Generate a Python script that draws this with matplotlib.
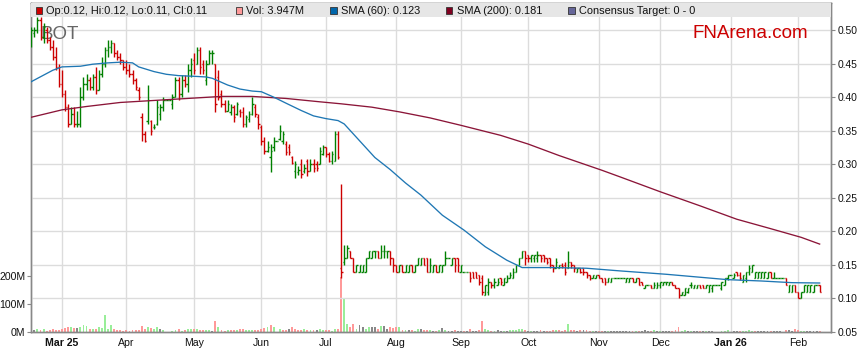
import numpy as np
import pandas as pd
import matplotlib
matplotlib.use("Agg")
import matplotlib.pyplot as plt
from matplotlib.patches import Rectangle
from matplotlib.collections import LineCollection

plt.rcParams['font.family'] = ['Liberation Sans', 'DejaVu Sans']

# ---------------- data ----------------
ticker = "BOT"
dates = pd.bdate_range("2025-02-17", "2026-02-11")   # weekday slots of the chart

opens = [
 .485,.495,.50,.515,.49,.50,.485,.475,.46,.445,
 .42,.405,.385,.36,.375,.36,.36,.40,.42,.425,.415,.43,.41,.435,.45,.47,.475,.48,.465,.46,.455,
 .445,.44,.435,.425,.41,.37,.345,.365,.365,.355,.36,.375,.385,.395,.395,.39,.40,.425,.405,.425,.42,.44,
 .455,.45,.47,.45,.425,.45,.465,.45,.43,.405,.39,.38,.378,.385,.375,.38,.378,.36,.368,.375,.385,.37,
 .355,.335,.32,.31,.325,.335,.338,.335,.33,.325,.31,.29,.288,.30,.29,.305,.29,.30,.30,.30,.315,
 .325,.315,.305,.305,.345,.145,.155,.16,.17,.16,.14,.14,.14,.14,.16,.16,.17,.17,.16,.17,.17,.17,.16,
 .15,.14,.15,.14,.14,.15,.14,.15,.15,.16,.16,.14,.14,.15,.14,.14,.15,.16,.15,.16,.16,
 .14,.14,.14,.14,.14,.14,.135,.13,.105,.11,.125,.12,.12,.13,.12,.125,.13,.13,.14,.15,.16,.17,
 .165,.16,.16,.16,.165,.165,.16,.16,.15,.145,.145,.15,.15,.145,.155,.15,.14,.145,.145,.14,.135,.13,.13,
 .135,.13,.13,.125,.125,.13,.13,.13,.13,.125,.125,.13,.125,.13,.125,.115,.12,.12,.115,.115,
 .12,.12,.125,.12,.125,.12,.115,.105,.105,.11,.12,.115,.115,.12,.12,.115,.11,.115,.12,.12,.115,.12,.13,
 .135,.13,.14,.135,.125,.13,.14,.14,.13,.13,.13,.13,.13,.14,.13,.13,.13,.13,.13,.11,.11,.12,
 .11,.10,.11,.11,.11,.11,.12,.12]

highs = [
 .505,.505,.52,.52,.51,.505,.49,.485,.475,.45,
 .44,.41,.39,.385,.385,.38,.415,.43,.435,.43,.435,.445,.44,.46,.475,.485,.485,.48,.47,.465,.455,
 .455,.45,.44,.428,.415,.376,.35,.418,.366,.36,.395,.39,.40,.395,.395,.405,.43,.43,.433,.433,.45,.458,
 .465,.475,.475,.455,.455,.47,.47,.45,.44,.41,.395,.395,.39,.388,.393,.383,.385,.373,.38,.40,.39,.375,
 .358,.34,.335,.33,.34,.335,.358,.35,.335,.33,.312,.305,.298,.308,.30,.308,.308,.308,.305,.325,.328,
 .325,.318,.32,.35,.35,.27,.18,.18,.17,.16,.15,.15,.15,.16,.17,.17,.17,.17,.18,.18,.17,.17,.16,
 .15,.15,.15,.15,.15,.15,.15,.16,.16,.16,.16,.16,.15,.15,.15,.15,.17,.16,.16,.16,.16,
 .15,.14,.14,.14,.14,.14,.135,.135,.12,.13,.125,.13,.13,.13,.13,.135,.14,.145,.15,.16,.17,.17,
 .165,.165,.165,.17,.165,.165,.16,.16,.15,.16,.15,.153,.155,.17,.155,.15,.145,.145,.145,.14,.135,.135,.135,
 .135,.13,.13,.13,.13,.13,.13,.13,.13,.13,.13,.13,.13,.13,.125,.12,.12,.12,.125,.125,
 .125,.125,.125,.125,.125,.12,.115,.11,.115,.115,.125,.12,.12,.12,.12,.12,.12,.12,.12,.12,.125,.13,.135,
 .135,.138,.14,.14,.135,.14,.15,.15,.14,.14,.14,.14,.14,.14,.14,.13,.13,.13,.13,.12,.12,.12,
 .11,.11,.12,.12,.12,.12,.12,.12]

lows = [
 .475,.49,.495,.485,.48,.48,.47,.455,.44,.415,
 .40,.38,.355,.36,.355,.355,.355,.395,.41,.41,.41,.405,.41,.43,.445,.46,.465,.46,.455,.45,.44,
 .435,.43,.42,.41,.395,.335,.333,.36,.343,.352,.358,.366,.38,.395,.395,.383,.40,.395,.40,.415,.408,.43,
 .435,.45,.435,.435,.418,.45,.45,.378,.395,.385,.378,.38,.373,.363,.373,.37,.355,.355,.363,.373,.37,.353,
 .328,.315,.318,.288,.32,.335,.336,.33,.313,.313,.30,.28,.284,.28,.287,.283,.29,.288,.29,.30,.313,
 .31,.303,.30,.305,.308,.13,.15,.16,.16,.14,.14,.14,.14,.14,.16,.16,.16,.16,.16,.16,.16,.15,.14,
 .14,.14,.14,.14,.14,.14,.14,.15,.15,.15,.14,.14,.14,.14,.14,.14,.15,.16,.15,.14,.14,
 .14,.14,.14,.125,.13,.13,.12,.105,.105,.105,.115,.115,.12,.12,.12,.125,.13,.13,.14,.15,.16,.15,
 .155,.155,.155,.155,.155,.155,.152,.145,.14,.145,.145,.145,.135,.145,.145,.14,.14,.138,.135,.13,.128,.13,.13,
 .13,.125,.12,.125,.125,.13,.13,.13,.13,.125,.125,.125,.125,.12,.12,.115,.12,.115,.115,.115,
 .115,.12,.12,.12,.12,.115,.10,.105,.105,.108,.115,.115,.115,.115,.115,.115,.11,.11,.12,.12,.113,.12,.127,
 .135,.13,.133,.128,.125,.125,.135,.14,.13,.13,.13,.13,.13,.13,.13,.13,.13,.13,.12,.11,.11,.11,
 .10,.10,.11,.11,.11,.11,.12,.11]

closes = [
 .50,.50,.515,.49,.505,.485,.475,.46,.445,.42,
 .405,.385,.36,.375,.36,.36,.40,.42,.425,.415,.43,.41,.435,.45,.47,.475,.48,.465,.46,.455,.445,
 .44,.435,.425,.415,.40,.345,.335,.395,.35,.356,.385,.385,.395,.395,.395,.40,.425,.405,.425,.42,.44,.45,
 .44,.47,.445,.44,.45,.465,.465,.39,.40,.39,.38,.39,.385,.37,.39,.378,.36,.37,.375,.39,.375,.36,
 .335,.32,.325,.32,.335,.335,.35,.345,.318,.318,.302,.30,.292,.285,.295,.29,.30,.295,.295,.32,.325,
 .315,.305,.315,.345,.31,.14,.16,.175,.16,.14,.15,.15,.15,.16,.17,.17,.17,.16,.17,.17,.17,.16,.15,
 .14,.15,.14,.15,.15,.14,.15,.16,.16,.15,.14,.15,.15,.14,.15,.15,.16,.16,.16,.15,.15,
 .15,.14,.14,.13,.13,.13,.125,.11,.12,.125,.12,.125,.125,.125,.13,.13,.135,.14,.15,.16,.17,.16,
 .16,.165,.165,.165,.16,.16,.155,.15,.145,.155,.15,.148,.14,.155,.15,.145,.145,.14,.14,.135,.13,.135,.135,
 .13,.125,.125,.13,.13,.13,.13,.13,.13,.13,.13,.125,.13,.12,.12,.12,.12,.115,.12,.12,
 .125,.125,.125,.125,.12,.115,.105,.11,.115,.115,.12,.12,.12,.115,.115,.12,.12,.12,.12,.12,.125,.13,.135,
 .135,.135,.135,.13,.135,.14,.145,.15,.14,.14,.14,.14,.14,.13,.13,.13,.13,.13,.12,.12,.12,.11,
 .10,.11,.12,.12,.12,.12,.12,.11]

volumes_m = [
 4,6,9,6,12,5,6,10,8,8,
 12,14,18,17,14,14,17,24,21,12,9,12,18,14,62,12,24,10,6,8,4,
 6,5,8,8,8,22,12,17,16,10,18,10,8,0,0,4,7,12,5,7,10,12,
 12,12,6,6,8,8,5,41,19,7,5,8,8,8,8,10,11,8,6,6,8,8,
 11,14,17,24,17,0,12,8,6,12,17,12,8,8,12,8,8,8,6,12,8,
 6,8,5,10,12,195,117,29,17,29,12,26,17,12,19,19,17,12,22,22,12,19,14,
 19,19,8,8,8,6,5,12,12,6,8,6,5,5,6,14,6,4,5,6,5,
 4,3,4,12,5,4,6,40,10,8,5,5,6,4,5,5,6,6,8,9,10,8,
 5,4,4,5,6,4,5,5,6,7,6,5,8,29,8,8,5,8,6,6,5,4,3,
 3,4,4,3,4,3,3,4,3,4,5,4,5,4,5,6,4,5,6,5,
 4,3,4,3,5,6,17,5,6,4,5,4,3,4,3,4,5,4,0,0,4,5,6,
 0,5,4,4,5,5,6,5,4,4,5,4,4,5,4,3,3,0,8,6,5,10,
 7,5,4,4,3,4,3,3.947]

sma60_dates = ['2025-02-17','2025-02-26','2025-03-03','2025-03-11','2025-03-17','2025-03-24',
 '2025-03-28','2025-04-03','2025-04-07','2025-04-14','2025-04-18','2025-04-24','2025-05-01',
 '2025-05-07','2025-05-09','2025-05-16','2025-05-22','2025-05-28','2025-06-02','2025-06-06',
 '2025-06-12','2025-06-19','2025-06-25','2025-07-01','2025-07-07','2025-07-09','2025-07-14',
 '2025-07-18','2025-07-23','2025-07-30','2025-08-06','2025-08-13','2025-08-22','2025-09-02',
 '2025-09-11','2025-09-22','2025-09-29','2025-10-13','2025-10-28','2025-11-12','2025-11-17',
 '2025-12-03','2025-12-31','2026-01-15','2026-01-29','2026-02-11']
sma60_vals = [.423,.44,.445,.446,.449,.451,.452,.451,.445,.438,.434,.432,.431,.430,.428,.418,
 .412,.409,.408,.40,.391,.380,.372,.368,.365,.36,.345,.325,.31,.292,.272,.254,.224,.202,.177,
 .157,.146,.146,.145,.141,.140,.136,.128,.126,.1235,.123]

sma200_dates = ['2025-02-17','2025-03-03','2025-03-13','2025-03-28','2025-04-14','2025-04-29',
 '2025-05-14','2025-05-28','2025-06-12','2025-06-27','2025-07-08','2025-07-22','2025-08-04',
 '2025-08-18','2025-09-01','2025-09-18','2025-10-01','2025-10-15','2025-11-04','2025-11-12',
 '2025-12-01','2025-12-18','2026-01-05','2026-01-20','2026-02-03','2026-02-11']
sma200_vals = [.370,.381,.386,.392,.395,.398,.401,.401,.398,.393,.390,.385,.378,.369,.358,.343,
 .33,.313,.291,.281,.259,.238,.218,.204,.191,.181]

month_labels = ['Mar 25','Apr','May','Jun','Jul','Aug','Sep','Oct','Nov','Dec','Jan 26','Feb']
bold_labels = ['Mar 25', 'Jan 26']
price_ticks = [0.05,0.10,0.15,0.20,0.25,0.30,0.35,0.40,0.45,0.50]
vol_ticks_m = [0, 100, 200]
consensus_text = "0 - 0"

# ---------------- styling ----------------
GREEN = '#008000'
RED = '#cc0000'
VOL_UP = '#99ee99'
VOL_DN = '#ff9999'
VOL_FLAT = '#888888'
SMA60_C = '#1f77b4'
SMA200_C = '#8b1538'
GRID_C = '#dcdcdc'
SPINE_C = '#888888'

W, H = 859, 363
L, R, T, B = 30.7, 831.0, 3.0, 332.0
fig = plt.figure(figsize=(W/100, H/100), dpi=100)
axv = fig.add_axes([L/W, 1-B/H, (R-L)/W, (B-T)/H])
axp = axv.twinx()
axp.patch.set_visible(False)

n = len(dates)
x = np.arange(n)
o = np.array(opens); h = np.array(highs); l = np.array(lows); c = np.array(closes)
v = np.array(volumes_m) * 1e6

# volume bars
vcols = [VOL_FLAT]
for i in range(1, n):
    vcols.append(VOL_UP if c[i] > c[i-1] else (VOL_DN if c[i] < c[i-1] else VOL_FLAT))
axv.bar(x, v, width=0.62, color=vcols, linewidth=0, zorder=2)
axv.set_ylim(0, 1175e6)
axv.set_yticks([t*1e6 for t in vol_ticks_m])
axv.set_yticklabels([f"{t}M" for t in vol_ticks_m])

# month ticks
mkey = dates.to_period('M')
month_pos = [i for i in range(1, n) if mkey[i] != mkey[i-1]]
axv.set_xticks(month_pos)
axv.set_xticklabels(month_labels)
for lab in axv.get_xticklabels():
    if lab.get_text() in bold_labels:
        lab.set_fontweight('bold')
axv.set_xlim(-0.2, 260.7)
axv.grid(axis='x', color=GRID_C, lw=1.0, zorder=0)
axv.set_axisbelow(True)

# price
axp.set_ylim(0.05, 0.5402)
axp.set_yticks(price_ticks)
axp.set_yticklabels([f"{t:.2f}" for t in price_ticks])
for t in price_ticks[1:]:
    axp.axhline(t, color=GRID_C, lw=1.0, zorder=0)

segs, cols = [], []
for i in range(n):
    col = GREEN if c[i] >= o[i] else RED
    segs.append([(i, l[i]), (i, h[i])])
    segs.append([(i - 0.45, o[i]), (i, o[i])])
    segs.append([(i, c[i]), (i + 0.45, c[i])])
    cols += [col] * 3
axp.add_collection(LineCollection(segs, colors=cols, linewidths=1.0, capstyle='butt', zorder=3))

s60x = dates.get_indexer(pd.to_datetime(sma60_dates))
s200x = dates.get_indexer(pd.to_datetime(sma200_dates))
axp.plot(s200x, sma200_vals, color=SMA200_C, lw=0.95, zorder=4, solid_joinstyle='round')
axp.plot(s60x, sma60_vals, color=SMA60_C, lw=0.95, zorder=4, solid_joinstyle='round')

# texts in plot
axp.text((41 - L)/(R - L), 1 - (39.3 - T)/(B - T), ticker, transform=axp.transAxes,
         fontsize=13.5, color='#666666', ha='left', va='baseline', zorder=2)
axp.text((808 - L)/(R - L), 1 - (38.3 - T)/(B - T), 'FNArena.com', transform=axp.transAxes,
         fontsize=13.5, color=RED, ha='right', va='baseline', zorder=6)

# legend band
band_h = 14.0/(B - T)
axp.add_patch(Rectangle((0, 1 - band_h), 1, band_h, transform=axp.transAxes,
                        facecolor='#e6e6e6', edgecolor='none', zorder=5, clip_on=False))

# axes styling
for ax in (axv, axp):
    for s in ax.spines.values():
        s.set_color(SPINE_C)
        s.set_linewidth(1.0)
axv.tick_params(axis='y', length=3, width=0.8, color=SPINE_C, labelsize=7.6, pad=1, labelcolor='#111111')
axv.tick_params(axis='x', length=0, labelsize=7.6, pad=4.5, labelcolor='#111111')
axp.tick_params(axis='y', length=3, width=0.8, color=SPINE_C, labelsize=7.4, pad=1.5, labelcolor='#111111')

# legend entries
def fx(px): return px / W
def fy(py): return 1 - py / H
legend_items = [
    (35.5, RED, f"Op:{opens[-1]:.2f}, Hi:{highs[-1]:.2f}, Lo:{lows[-1]:.2f}, Cl:{closes[-1]:.2f}"),
    (235.5, VOL_DN, f"Vol: {volumes_m[-1]:.3f}M"),
    (330.0, '#0066aa', f"SMA (60): {sma60_vals[-1]:.3f}"),
    (446.0, '#800020', f"SMA (200): {sma200_vals[-1]:.3f}"),
    (568.0, '#666699', f"Consensus Target: {consensus_text}"),
]
for px, col, txt in legend_items:
    fig.patches.append(Rectangle((fx(px), fy(13.5)), 6.5/W, 6.5/H, transform=fig.transFigure,
                                 facecolor=col, edgecolor='#333333', lw=0.6, zorder=5))
    fig.text(fx(px + 11), fy(14), txt, fontsize=7.9, color='#111111', ha='left', va='baseline', zorder=6)

fig.savefig('out.png', dpi=100)
